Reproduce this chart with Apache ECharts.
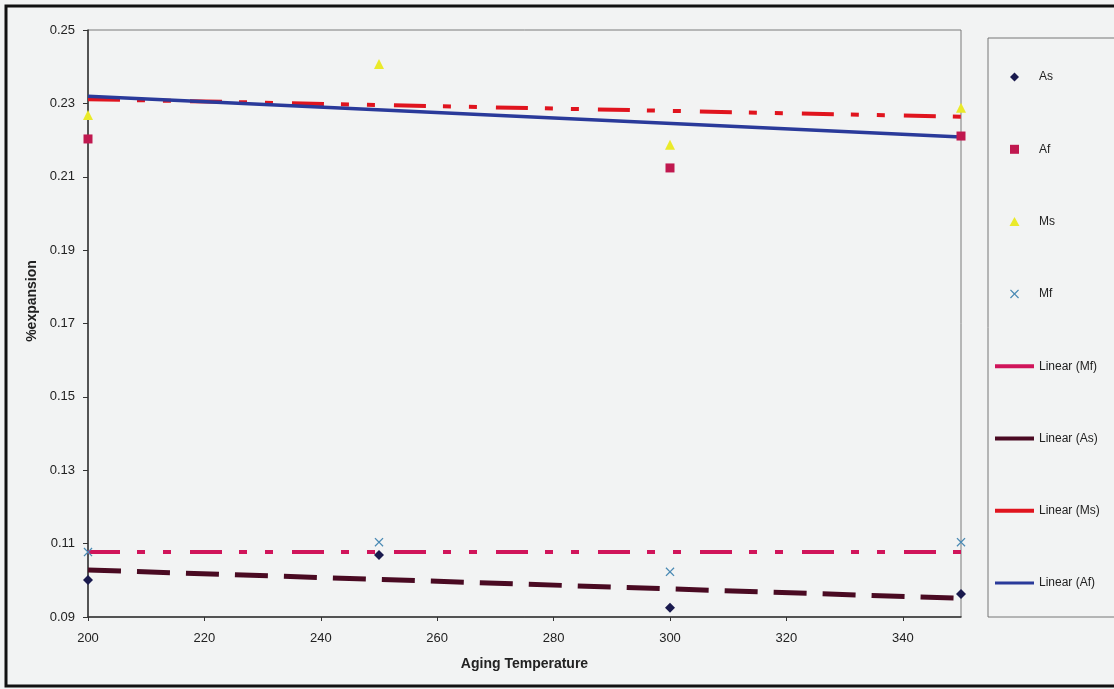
<!DOCTYPE html>
<html>
<head>
<meta charset="utf-8">
<script src="https://cdn.jsdelivr.net/npm/echarts@6/dist/echarts.min.js"></script>
<style>
  html, body { margin: 0; padding: 0; background: #f2f3f3; }
  #main { width: 1114px; height: 689px; }
</style>
</head>
<body>
<div id="main"></div>
<script>
// aging temperatures (x) and measured % expansion per transformation point
const temps = [200, 250, 300, 350];
const asVals = [0.1001, 0.1069, 0.0925, 0.0963];
const afVals = [0.2203, 0.2518, 0.2124, 0.2211]; // 250 point sits above the plot top
const msVals = [0.2268, 0.2407, 0.2187, 0.2288];
const mfVals = [0.1077, 0.1104, 0.1023, 0.1104];
const yTicks = [0.09, 0.11, 0.13, 0.15, 0.17, 0.19, 0.21, 0.23, 0.25];

// least squares fit, like Excel's linear trendline
function linFit(xs, ys) {
  const n = xs.length;
  const mx = xs.reduce((a, b) => a + b, 0) / n;
  const my = ys.reduce((a, b) => a + b, 0) / n;
  let sxy = 0, sxx = 0;
  xs.forEach((x, i) => { sxy += (x - mx) * (ys[i] - my); sxx += (x - mx) * (x - mx); });
  const b = sxy / sxx;
  const a = my - b * mx;
  const x0 = xs[0], x1 = xs[n - 1];
  return [[x0, a + b * x0], [x1, a + b * x1]];
}
const pairs = ys => temps.map((t, i) => [t, ys[i]]);

const dashDotDot = [32, 17, 8, 18, 8, 19];
const diamondPath = 'path://M5,0L10,5L5,10L0,5Z';
const squarePath = 'path://M0,0H10V10H0Z';
const trianglePath = 'path://M5,0L10,9L0,9Z';
const xPath = 'path://M0,1L1,0L5,4L9,0L10,1L6,5L10,9L9,10L5,6L1,10L0,9L4,5Z';

const chart = echarts.init(document.getElementById('main'));
chart.setOption({
  backgroundColor: '#f2f3f3',
  animation: false,
  textStyle: { fontFamily: 'Liberation Sans, Arial, sans-serif' },
  grid: { left: 88, top: 30, right: 153, bottom: 72, show: true, borderColor: '#7a7a7a', borderWidth: 1 },
  xAxis: {
    type: 'value', min: 200, max: 350, interval: 20,
    name: 'Aging Temperature', nameLocation: 'middle', nameGap: 40,
    nameTextStyle: { fontSize: 14, fontWeight: 'bold', color: '#222' },
    axisLine: { lineStyle: { color: '#333', width: 1.5 } },
    axisTick: { length: 4, lineStyle: { color: '#333' } },
    axisLabel: { fontSize: 13, color: '#222', margin: 15, showMaxLabel: false },
    splitLine: { show: false }
  },
  yAxis: {
    type: 'value', min: yTicks[0], max: yTicks[yTicks.length - 1], interval: 0.02,
    axisLine: { show: true, lineStyle: { color: '#333', width: 1.5 } },
    axisTick: { show: true, length: 5, lineStyle: { color: '#333' } },
    axisLabel: { fontSize: 13, color: '#222', margin: 13, formatter: v => v.toFixed(2) },
    splitLine: { show: false }
  },
  legend: {
    orient: 'vertical', left: 993, top: 71, padding: 0,
    itemWidth: 39, itemHeight: 9, itemGap: 60.3, symbolKeepAspect: true,
    textStyle: { fontSize: 12, color: '#222' },
    lineStyle: { type: 'solid', width: 4 },
    data: [
      { name: 'As', icon: diamondPath },
      { name: 'Af', icon: squarePath },
      { name: 'Ms', icon: trianglePath },
      { name: 'Mf', icon: xPath },
      { name: 'Linear (Mf)', itemStyle: { opacity: 0 } },
      { name: 'Linear (As)', itemStyle: { opacity: 0 } },
      { name: 'Linear (Ms)', itemStyle: { opacity: 0 } },
      { name: 'Linear (Af)', itemStyle: { opacity: 0 }, lineStyle: { width: 3 } }
    ]
  },
  graphic: [
    { type: 'rect', shape: { x: 6, y: 6, width: 1130, height: 680 }, style: { fill: 'none', stroke: '#111', lineWidth: 3 }, silent: true },
    { type: 'rect', shape: { x: 988, y: 38, width: 140, height: 579 }, style: { fill: 'none', stroke: '#777', lineWidth: 1 }, silent: true },
    { type: 'text', x: 32, y: 301, rotation: Math.PI / 2,
      style: { text: '%expansion', fontSize: 14, fontWeight: 'bold', fill: '#222', align: 'center', verticalAlign: 'middle', fontFamily: 'Liberation Sans, Arial, sans-serif' } }
  ],
  series: [
    { name: 'Linear (Mf)', type: 'line', data: linFit(temps, mfVals), symbol: 'none', z: 2,
      lineStyle: { color: '#d0145a', width: 4, type: dashDotDot }, itemStyle: { color: '#d0145a' } },
    { name: 'Linear (As)', type: 'line', data: linFit(temps, asVals), symbol: 'none', z: 2,
      lineStyle: { color: '#4a0a22', width: 5, type: [33, 16] }, itemStyle: { color: '#4a0a22' } },
    { name: 'Linear (Ms)', type: 'line', data: linFit(temps, msVals), symbol: 'none', z: 2,
      lineStyle: { color: '#e0141e', width: 4, type: dashDotDot }, itemStyle: { color: '#e0141e' } },
    { name: 'Linear (Af)', type: 'line', data: linFit(temps, afVals), symbol: 'none', z: 2,
      lineStyle: { color: '#2a3a9a', width: 3.5 }, itemStyle: { color: '#2a3a9a' } },
    { name: 'As', type: 'scatter', data: pairs(asVals), symbol: 'diamond', symbolSize: 10, z: 3,
      itemStyle: { color: '#1a1a4e', opacity: 1 } },
    { name: 'Af', type: 'scatter', data: pairs(afVals), symbol: 'rect', symbolSize: 9, z: 3,
      itemStyle: { color: '#c0184f', opacity: 1 } },
    { name: 'Ms', type: 'scatter', data: pairs(msVals), symbol: 'triangle', symbolSize: 10, z: 3,
      itemStyle: { color: '#eaea2a', opacity: 1 } },
    { name: 'Mf', type: 'scatter', data: pairs(mfVals), symbol: xPath, symbolSize: 9, z: 3,
      itemStyle: { color: '#4a8ab4', opacity: 1 } }
  ]
});
</script>
</body>
</html>
